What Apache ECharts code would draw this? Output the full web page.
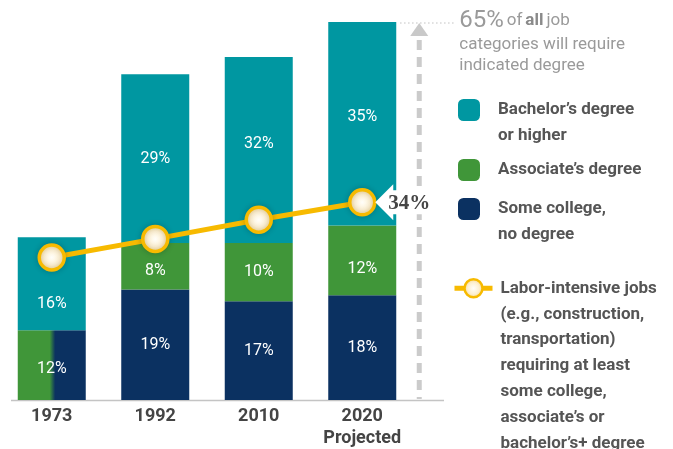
<!DOCTYPE html>
<html><head><meta charset="utf-8">
<script src="https://cdn.jsdelivr.net/npm/echarts@6/dist/echarts.min.js"></script>
<style>html,body{margin:0;padding:0;background:#fff}#c{width:673px;height:449px}</style>
</head><body><div id="c"></div>
<script>
// ---- data ----
const categories = ['1973', '1992', '2010', '2020'];
const tickLabels = ['1973', '1992', '2010', '2020\nProjected'];
const someCollege = [12, 19, 17, 18];
const associates = [0, 8, 10, 12];
const bachelors = [16, 29, 32, 35];
const laborIntensive = [24.5, 27.7, 31, 34];
const allJobsShare = 65;
const seriesNames = ['Bachelor\u2019s degree\nor higher', 'Associate\u2019s degree', 'Some college,\nno degree',
  'Labor-intensive jobs\n(e.g., construction,\ntransportation)\nrequiring at least\nsome college,\nassociate\u2019s or\nbachelor\u2019s+ degree'];

// ---- style ----
const FONT = 'Roboto, "Liberation Sans", sans-serif';
const TEAL = '#0097a1', GREEN = '#409639', NAVY = '#0b3161', GOLD = '#f7ba00';
const labelNudge = { '1973-bach': 20, '2020-bach': -7, '2010-bach': -6, '1992-assoc': 5, '2020-assoc': 9, '1973-some': 4 };

const chart = echarts.init(document.getElementById('c'), null, { renderer: 'canvas' });

function barData(values, key, zeroHide) {
  return values.map((v, i) => {
    const item = { value: v };
    const n = labelNudge[categories[i] + '-' + key];
    if (n) item.label = { offset: [0, n] };
    if (zeroHide && v === 0) item.label = { show: false };
    return item;
  });
}
const scData = barData(someCollege, 'some');
scData[0].itemStyle = {
  color: new echarts.graphic.LinearGradient(0, 0, 1, 0, [
    { offset: 0, color: GREEN }, { offset: 0.47, color: GREEN }, { offset: 0.55, color: NAVY }, { offset: 1, color: NAVY }])
};

const barLabel = { show: true, position: 'inside', color: '#fff', fontSize: 16, fontFamily: FONT, formatter: '{c}%' };
const markerFill = { type: 'radial', x: 0.5, y: 0.5, r: 0.5, colorStops: [
  { offset: 0, color: '#fffefa' }, { offset: 0.55, color: '#fdf0d2' }, { offset: 1, color: '#f5d688' }] };

function legendFor(name, left, top, nLines, lineH, iconW, iconH, padLeft) {
  return {
    data: [name], left: left, top: top, orient: 'vertical', padding: 0, selectedMode: false,
    itemWidth: iconW, itemHeight: iconH,
    formatter: (n) => '\n'.repeat(nLines - 1) + n,
    textStyle: { fontFamily: FONT, fontSize: 17, fontWeight: 'bold', color: '#555', lineHeight: lineH,
      padding: [0, 0, 0, padLeft] }
  };
}

chart.setOption({
  animation: false,
  backgroundColor: '#fff',
  grid: { left: 0, width: 414, top: 22, bottom: 46 },
  xAxis: { type: 'category', data: tickLabels, axisLine: { show: false }, axisTick: { show: false },
    axisLabel: { interval: 0, color: '#444', fontSize: 18, fontWeight: 'bold', fontFamily: FONT, margin: 5, lineHeight: 22 } },
  yAxis: { type: 'value', min: 0, max: allJobsShare, show: false, splitLine: { show: false } },
  legend: [
    legendFor(seriesNames[0], 458, 71, 2, 26, 22, 22, 13),
    legendFor(seriesNames[1], 458, 157, 1, 26, 22, 22, 13),
    legendFor(seriesNames[2], 458, 170, 2, 26, 22, 22, 13),
    Object.assign(legendFor(seriesNames[3], 452, 120, 7, 25.9, 38, 22.5, 3), {
      itemStyle: { color: markerFill, borderColor: GOLD, borderWidth: 2.5 },
      lineStyle: { color: GOLD, width: 5 } })
  ],
  series: [
    { name: seriesNames[2], type: 'bar', stack: 's', barWidth: 68, data: scData, itemStyle: { color: NAVY }, label: barLabel },
    { name: seriesNames[1], type: 'bar', stack: 's', data: barData(associates, 'assoc', true), itemStyle: { color: GREEN }, label: barLabel },
    { name: seriesNames[0], type: 'bar', stack: 's', data: barData(bachelors, 'bach'), itemStyle: { color: TEAL }, label: barLabel },
    { name: seriesNames[3], type: 'line', data: laborIntensive, z: 4,
      lineStyle: { color: GOLD, width: 5 }, symbol: 'circle', symbolSize: 25,
      itemStyle: { color: markerFill, borderColor: GOLD, borderWidth: 3.5, shadowBlur: 6, shadowColor: 'rgba(0,0,0,0.18)' },
      markPoint: {
        symbol: 'path://M0,18 L18,0 L18,6 L58,6 L58,30 L18,30 L18,36 Z',
        symbolSize: [58, 36], symbolOffset: [42, 0], silent: true,
        itemStyle: { color: '#fff' },
        label: { show: true, position: 'inside', offset: [5, 1], color: '#454545', fontFamily: '"Liberation Serif", "DejaVu Serif", serif',
          fontWeight: 'bold', fontSize: 21, formatter: (p) => p.value + '%' },
        data: [{ coord: [categories.length - 1, laborIntensive[laborIntensive.length - 1]], value: laborIntensive[laborIntensive.length - 1] }]
      } }
  ]
});

// ---- annotation positioned from the scales ----
const base = chart.convertToPixel({ gridIndex: 0 }, [0, 0]);
const top65 = chart.convertToPixel({ gridIndex: 0 }, [categories.length - 1, allJobsShare]);
const arrowX = top65[0] + 57;
const yTop = top65[1] + 1;
chart.setOption({
  graphic: [
    { type: 'line', shape: { x1: 11, y1: base[1] + 0.5, x2: 444, y2: base[1] + 0.5 }, style: { stroke: '#c4c4c4', lineWidth: 1.5 }, z: 1 },
    { type: 'line', shape: { x1: top65[0] + 38, y1: yTop, x2: arrowX + 36, y2: yTop }, style: { stroke: '#b0b0b0', lineWidth: 1, lineDash: [1.2, 2.8] } },
    { type: 'polygon', shape: { points: [[arrowX - 9, yTop + 13], [arrowX, yTop], [arrowX + 9, yTop + 13]] }, style: { fill: '#c9c9c9' } },
    { type: 'line', shape: { x1: arrowX, y1: yTop + 17, x2: arrowX, y2: base[1] - 1 }, style: { stroke: '#cbcbcb', lineWidth: 5, lineDash: [10, 7] } },
    { type: 'text', left: arrowX + 40, top: 9, style: {
      text: '{big|' + allJobsShare + '%} {n|of} {b|all} {n|job}\n{n|categories will require}\n{n|indicated degree}',
      fill: '#9a9a9a', fontFamily: FONT,
      rich: {
        big: { fontSize: 24, lineHeight: 26, fill: '#9a9a9a', fontFamily: FONT },
        n: { fontSize: 17, lineHeight: 21, fill: '#9a9a9a', fontFamily: FONT },
        b: { fontSize: 17, lineHeight: 21, fill: '#8a8a8a', fontWeight: 'bold', fontFamily: FONT }
      } } }
  ]
});
</script></body></html>
